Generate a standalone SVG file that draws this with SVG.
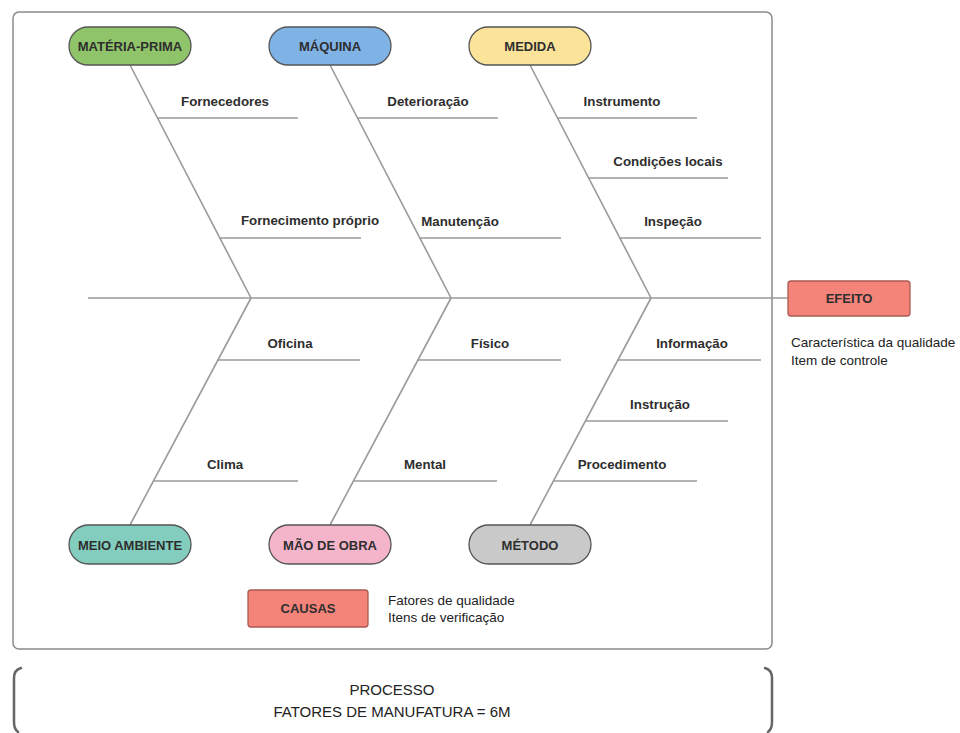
<svg xmlns="http://www.w3.org/2000/svg" width="960" height="733" viewBox="0 0 960 733">
  <style>
    .frame { fill: #ffffff; stroke: #8a8a8a; stroke-width: 1.5; }
    .bone { fill: none; stroke: #9a9a9a; stroke-width: 1.6; }
    .pill { stroke: #555555; stroke-width: 1.3; }
    .lbl { font-family: "Liberation Sans", Arial, sans-serif; font-size: 13px; font-weight: bold; fill: #2e2e2e; text-anchor: middle; }
    .sub { font-size: 13.3px; }
    .note { font-family: "Liberation Sans", Arial, sans-serif; font-size: 13.5px; fill: #222222; }
    .proc { font-family: "Liberation Sans", Arial, sans-serif; font-size: 15px; fill: #222222; text-anchor: middle; }
    .bracket { fill: none; stroke: #666666; stroke-width: 2.5; stroke-linecap: round; }
  </style>

  <rect width="960" height="733" fill="#ffffff"/>

  <!-- outer frame -->
  <rect class="frame" x="13" y="12" width="759" height="637" rx="6"/>

  <!-- connectors: spine, main bones and sub-causes -->
  <g id="connectors">
    <line class="bone" x1="88" y1="298" x2="788" y2="298"/>
    <!-- upper bones -->
    <line class="bone" x1="130" y1="65" x2="251" y2="298"/>
    <line class="bone" x1="330" y1="65" x2="451" y2="298"/>
    <line class="bone" x1="530" y1="65" x2="651" y2="298"/>
    <!-- lower bones -->
    <line class="bone" x1="251" y1="298" x2="130" y2="525"/>
    <line class="bone" x1="451" y1="298" x2="330" y2="525"/>
    <line class="bone" x1="651" y1="298" x2="530" y2="525"/>
    <!-- upper sub-causes -->
    <line class="bone" x1="157" y1="118" x2="298" y2="118"/>
    <line class="bone" x1="220" y1="238" x2="361" y2="238"/>
    <line class="bone" x1="357" y1="118" x2="498" y2="118"/>
    <line class="bone" x1="420" y1="238" x2="561" y2="238"/>
    <line class="bone" x1="557" y1="118" x2="697" y2="118"/>
    <line class="bone" x1="588" y1="178" x2="728" y2="178"/>
    <line class="bone" x1="620" y1="238" x2="761" y2="238"/>
    <!-- lower sub-causes -->
    <line class="bone" x1="218" y1="360" x2="360" y2="360"/>
    <line class="bone" x1="154" y1="481" x2="298" y2="481"/>
    <line class="bone" x1="418" y1="360" x2="561" y2="360"/>
    <line class="bone" x1="354" y1="481" x2="497" y2="481"/>
    <line class="bone" x1="618" y1="360" x2="761" y2="360"/>
    <line class="bone" x1="586" y1="421" x2="728" y2="421"/>
    <line class="bone" x1="554" y1="481" x2="697" y2="481"/>
  </g>

  <!-- sub-cause labels -->
  <g id="labels">
    <text class="lbl sub" x="225" y="106">Fornecedores</text>
    <text class="lbl sub" x="310" y="225">Fornecimento próprio</text>
    <text class="lbl sub" x="428" y="106">Deterioração</text>
    <text class="lbl sub" x="460" y="226">Manutenção</text>
    <text class="lbl sub" x="622" y="106">Instrumento</text>
    <text class="lbl sub" x="668" y="166">Condições locais</text>
    <text class="lbl sub" x="673" y="226">Inspeção</text>
    <text class="lbl sub" x="290" y="348">Oficina</text>
    <text class="lbl sub" x="225" y="469">Clima</text>
    <text class="lbl sub" x="490" y="348">Físico</text>
    <text class="lbl sub" x="425" y="469">Mental</text>
    <text class="lbl sub" x="692" y="348">Informação</text>
    <text class="lbl sub" x="660" y="409">Instrução</text>
    <text class="lbl sub" x="622" y="469">Procedimento</text>
  </g>

  <!-- category nodes -->
  <g id="materia-prima">
    <rect class="pill" x="69" y="27" width="122" height="38" rx="19" fill="#8fc46a"/>
    <text class="lbl" x="130" y="51">MATÉRIA-PRIMA</text>
  </g>
  <g id="maquina">
    <rect class="pill" x="269" y="27" width="122" height="38" rx="19" fill="#7fb3e6"/>
    <text class="lbl" x="330" y="51">MÁQUINA</text>
  </g>
  <g id="medida">
    <rect class="pill" x="469" y="27" width="122" height="38" rx="19" fill="#fbe39a"/>
    <text class="lbl" x="530" y="51">MEDIDA</text>
  </g>
  <g id="meio-ambiente">
    <rect class="pill" x="69" y="525" width="122" height="39" rx="19.5" fill="#83cdbf"/>
    <text class="lbl" x="130" y="550">MEIO AMBIENTE</text>
  </g>
  <g id="mao-de-obra">
    <rect class="pill" x="269" y="525" width="122" height="39" rx="19.5" fill="#f4b5cb"/>
    <text class="lbl" x="330" y="550">MÃO DE OBRA</text>
  </g>
  <g id="metodo">
    <rect class="pill" x="469" y="525" width="122" height="39" rx="19.5" fill="#c9c9c9"/>
    <text class="lbl" x="530" y="550">MÉTODO</text>
  </g>

  <!-- effect -->
  <g id="efeito">
    <rect x="788" y="281" width="122" height="35" rx="3" fill="#f4847a" stroke="#a85a52" stroke-width="1.3"/>
    <text class="lbl" x="849" y="303">EFEITO</text>
    <text class="note" x="791" y="347">Característica da qualidade</text>
    <text class="note" x="791" y="365">Item de controle</text>
  </g>

  <!-- causes legend -->
  <g id="causas">
    <rect x="248" y="590" width="120" height="37" rx="3" fill="#f4847a" stroke="#a85a52" stroke-width="1.3"/>
    <text class="lbl" x="308" y="613">CAUSAS</text>
    <text class="note" x="388" y="605">Fatores de qualidade</text>
    <text class="note" x="388" y="622">Itens de verificação</text>
  </g>

  <!-- process bracket -->
  <g id="processo">
    <path class="bracket" d="M21 668 Q14 670 14 678 L14 722 Q14 729 18 732"/>
    <path class="bracket" d="M765 668 Q772 670 772 678 L772 722 Q772 729 768 732"/>
    <text class="proc" x="392" y="695">PROCESSO</text>
    <text class="proc" x="392" y="717">FATORES DE MANUFATURA = 6M</text>
  </g>
</svg>
